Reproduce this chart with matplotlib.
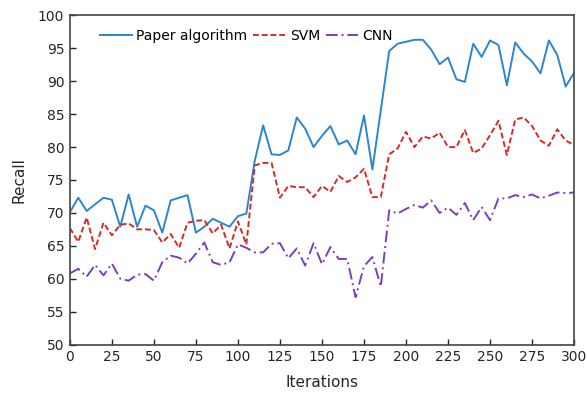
"""Recall vs iterations for three algorithms."""
import numpy as np
import matplotlib
matplotlib.use("Agg")
import matplotlib.pyplot as plt

iterations = np.arange(0, 301, 5)

paper = [70.1, 72.3, 70.3, 71.3, 72.3, 72.0, 67.9, 72.8, 67.9, 71.1,
         70.4, 67.0, 71.9, 72.3, 72.7, 67.0, 67.9, 69.1, 68.5, 67.9,
         69.5, 69.9, 77.9, 83.3, 78.9, 78.8, 79.5, 84.5, 82.8, 80.0,
         81.7, 83.2, 80.4, 81.0, 78.9, 84.8, 76.6, 85.6, 94.6, 95.7,
         96.0, 96.3, 96.3, 94.8, 92.6, 93.6, 90.3, 89.9, 95.7, 93.7,
         96.2, 95.5, 89.4, 95.9, 94.2, 93.0, 91.2, 96.2, 94.0, 89.2,
         91.3]
svm = [67.7, 65.6, 69.3, 64.5, 68.5, 66.6, 68.2, 68.4, 67.5, 67.5,
       67.4, 65.5, 66.8, 64.7, 68.5, 68.8, 68.9, 66.9, 68.2, 64.6,
       68.7, 65.2, 77.2, 77.6, 77.6, 72.3, 74.1, 73.9, 73.9, 72.4,
       74.1, 73.2, 75.6, 74.7, 75.4, 76.7, 72.4, 72.4, 78.9, 79.8,
       82.3, 80.0, 81.6, 81.3, 82.2, 80.0, 80.0, 82.6, 79.1, 79.8,
       81.8, 84.0, 78.8, 84.2, 84.5, 83.2, 81.0, 80.2, 82.7, 81.0,
       80.3]
cnn = [60.8, 61.5, 60.3, 62.1, 60.5, 62.3, 60.0, 59.7, 60.6, 60.7,
       59.7, 62.5, 63.5, 63.2, 62.3, 63.8, 65.5, 62.5, 62.1, 62.5,
       65.2, 64.7, 64.0, 64.0, 65.3, 65.4, 63.1, 64.6, 62.0, 65.4,
       62.2, 64.8, 63.0, 63.0, 57.2, 61.9, 63.3, 58.8, 70.4, 69.9,
       70.6, 71.2, 70.8, 71.9, 70.0, 70.8, 69.7, 71.5, 68.9, 70.9,
       68.9, 72.2, 72.2, 72.7, 72.4, 72.8, 72.2, 72.6, 73.1, 73.0,
       73.1]

fig = plt.figure(figsize=(5.87, 3.96), dpi=100)
ax = fig.add_axes([0.119, 0.130, 0.859, 0.831])

ax.plot(iterations, paper, color="#2b86cf", lw=1.4, label="Paper algorithm")
ax.plot(iterations, svm, color="#d42a2a", lw=1.4, ls=(0, (3, 1.5)), label="SVM")
ax.plot(iterations, cnn, color="#7e3fb5", lw=1.4, ls=(0, (6, 2, 1, 2)), label="CNN")

ax.set_xlim(0, 300)
ax.set_ylim(50, 100)
ax.set_xticks(range(0, 301, 25))
ax.set_yticks(range(50, 101, 5))
ax.tick_params(direction="in", length=4.5, width=1, labelsize=10, colors="#262626", pad=4)
for s in ax.spines.values():
    s.set_color("#444444")
    s.set_linewidth(1.2)
ax.set_xlabel("Iterations", fontsize=11, color="#262626", labelpad=8)
ax.set_ylabel("Recall", fontsize=11, color="#262626", labelpad=8)
ax.legend(loc="upper left", ncol=3, frameon=False, fontsize=10, handlelength=2.3,
          columnspacing=0.4, handletextpad=0.35, borderaxespad=0,
          bbox_to_anchor=(0.048, 0.975))

fig.savefig("out.png", dpi=100)
